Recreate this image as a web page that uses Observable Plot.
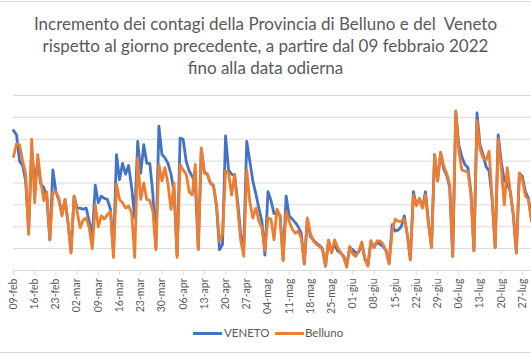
<!DOCTYPE html>
<html>
<head>
<meta charset="utf-8">
<script src="https://cdn.jsdelivr.net/npm/d3@7"></script>
<script src="https://cdn.jsdelivr.net/npm/@observablehq/plot@0.6"></script>
<style>
  html, body { margin: 0; padding: 0; background: #fff; }
  #wrap { position: relative; width: 531px; height: 354px; overflow: hidden; font-family: Lato, "Open Sans", sans-serif; }
  #title { position: absolute; top: 13px; left: 0; width: 531px; text-align: center; color: #595959; font-size: 17px; line-height: 22px; }
  #chart { position: absolute; top: 80px; left: 0; }
  .frame { position: absolute; left: 0; width: 531px; height: 1px; background: #d9d9d9; }
  .leg { position: absolute; top: 326px; font-size: 11.5px; color: #595959; line-height: 14px; }
  .sw { position: absolute; top: 332px; height: 3px; }
</style>
</head>
<body>
<div id="wrap">
  <div class="frame" style="top:1px"></div>
  <div class="frame" style="top:352px"></div>
  <div id="title">Incremento dei contagi della Provincia di Belluno e del&nbsp; Veneto<br>rispetto al giorno precedente, a partire dal 09 febbraio 2022<br>fino alla data odierna</div>
  <div id="chart"></div>
  <div class="sw" style="left:193px;width:29px;background:#4472C4"></div>
  <div class="leg" style="left:224px">VENETO</div>
  <div class="sw" style="left:275px;width:29px;background:#ED7D31"></div>
  <div class="leg" style="left:305px">Belluno</div>
</div>
<script>
const startDate = "2022-02-09";
const seriesNames = ["VENETO", "Belluno"];
const veneto = [
  6.4, 6.2, 5.0, 4.8, 4.1, 1.8, 5.5, 4.0, 5.0, 3.95,
  3.8, 3.3, 1.4, 4.6, 3.6, 3.2, 2.55, 3.25, 2.2, 0.88,
  3.4, 2.85, 2.85, 2.8, 2.85, 2.25, 1.5, 3.9, 3.1, 3.4,
  3.3, 3.25, 2.8, 0.9, 5.3, 4.15, 4.9, 4.4, 4.8, 3.8,
  2.4, 5.9, 4.45, 5.75, 4.9, 4.9, 3.5, 1.05, 6.6, 5.3,
  5.15, 4.9, 4.4, 3.6, 0.7, 6.05, 6.0, 5.0, 4.55, 4.3,
  4.0, 1.0, 5.55, 4.5, 4.4, 4.0, 3.9, 3.0, 0.95, 1.2,
  6.15, 4.6, 4.4, 4.35, 3.15, 1.65, 1.05, 5.9, 5.0, 4.1,
  3.5, 2.85, 2.25, 0.7, 3.6, 3.2, 2.6, 2.65, 2.5, 0.5,
  3.4, 2.5, 2.35, 2.2, 2.0, 1.7, 0.3, 2.35, 1.55, 1.4,
  1.25, 1.15, 1.0, 0.2, 1.35, 0.85, 1.2, 0.9, 0.8, 0.65,
  0.25, 1.05, 0.95, 0.8, 0.85, 1.2, 0.55, 0.25, 1.35, 1.05,
  1.3, 1.2, 1.1, 0.9, 0.35, 2.1, 1.8, 1.85, 2.0, 2.5,
  1.65, 0.5, 3.6, 3.0, 3.25, 2.9, 3.6, 2.2, 1.05, 5.3,
  4.1, 5.4, 4.65, 4.35, 3.8, 0.65, 7.25, 5.75, 5.2, 4.85,
  4.7, 3.6, 0.9, 7.2, 5.75, 5.3, 4.75, 4.55, 3.3, 1.05,
  6.2, 5.0, 4.1, 4.0, 3.6, 2.55, 0.8, 4.45, 4.3, 3.6,
  3.3, 2.3
];
const belluno = [
  5.2, 5.8, 5.75, 5.0, 4.45, 1.65, 6.0, 3.1, 5.3, 4.1,
  3.2, 3.6, 1.4, 3.6, 3.6, 3.3, 2.5, 3.25, 2.2, 0.8,
  3.4, 2.7, 1.95, 2.3, 2.4, 1.95, 1.0, 3.0, 2.0, 2.5,
  2.35, 2.55, 2.7, 0.6, 3.95, 3.25, 3.1, 2.85, 2.95, 2.65,
  0.6, 5.15, 3.25, 4.0, 3.25, 3.2, 2.7, 0.95, 4.85, 4.1,
  4.7, 3.95, 2.8, 4.0, 0.6, 4.85, 4.6, 4.4, 3.6, 3.45,
  4.85, 0.95, 5.6, 4.45, 4.4, 4.0, 3.85, 2.95, 1.35, 1.65,
  4.55, 4.45, 3.45, 4.4, 2.85, 1.4, 0.65, 4.6, 3.15, 2.4,
  2.85, 2.25, 1.95, 0.9, 2.4, 2.35, 1.4, 2.8, 2.5, 0.45,
  2.7, 2.25, 1.9, 1.7, 1.8, 1.5, 0.3, 2.4, 1.7, 1.35,
  1.2, 1.1, 0.95, 0.2, 1.4, 0.8, 1.4, 1.05, 0.8, 0.6,
  0.15, 1.1, 0.75, 0.65, 0.9, 1.3, 0.5, 0.2, 1.35, 1.05,
  1.35, 1.35, 1.2, 0.9, 0.3, 1.8, 2.35, 2.25, 2.25, 2.35,
  1.65, 0.5, 3.45, 2.95, 3.3, 2.85, 3.45, 2.1, 1.05, 5.3,
  4.1, 5.4, 4.8, 4.45, 3.9, 0.65, 7.3, 5.45, 4.6, 4.55,
  4.5, 3.5, 0.9, 6.85, 5.55, 5.15, 5.05, 5.45, 3.3, 1.05,
  6.0, 4.7, 3.0, 4.7, 3.6, 2.55, 0.8, 4.45, 4.15, 3.4,
  3.25, 2.25
];
const tickLabels = ["09-feb","16-feb","23-feb","02-mar","09-mar","16-mar","23-mar","30-mar",
  "06-apr","13-apr","20-apr","27-apr","04-mag","11-mag","18-mag","25-mag",
  "01-giu","08-giu","15-giu","22-giu","29-giu","06-lug","13-lug","20-lug","27-lug"];
const yTicks = [0, 1, 2, 3, 4, 5, 6, 7, 8];

const start = new Date(startDate + "T00:00:00Z");
const dayDate = (i) => d3.utcDay.offset(start, i);
const rows = [];
veneto.forEach((v, i) => rows.push({date: dayDate(i), value: v, series: seriesNames[0]}));
belluno.forEach((v, i) => rows.push({date: dayDate(i), value: v, series: seriesNames[1]}));
const tickDates = tickLabels.map((_, i) => dayDate(i * 7));

const chart = Plot.plot({
  width: 531,
  height: 245,
  marginLeft: 13,
  marginRight: 0,
  marginTop: 15,
  marginBottom: 55,
  style: {fontFamily: "Lato, 'Open Sans', sans-serif", fontSize: "10.5px", background: "transparent"},
  x: {type: "utc", domain: [dayDate(0), dayDate(veneto.length - 1)]},
  y: {domain: [0, 8], axis: null},
  marks: [
    Plot.gridY(yTicks, {stroke: "#d9d9d9", strokeOpacity: 1}),
    Plot.ruleY([0], {stroke: "#d9d9d9"}),
    Plot.axisX(tickDates, {
      tickFormat: (d) => tickLabels[tickDates.findIndex(t => +t === +d)],
      tickRotate: -90, tickSize: 5, tickPadding: 3,
      color: "#595959", stroke: "#d9d9d9", label: null
    }),
    Plot.lineY(rows.filter(r => r.series === seriesNames[0]), {x: "date", y: "value", stroke: "#4472C4", strokeWidth: 2.8, strokeLinejoin: "round"}),
    Plot.lineY(rows.filter(r => r.series === seriesNames[1]), {x: "date", y: "value", stroke: "#ED7D31", strokeWidth: 2.8, strokeLinejoin: "round"})
  ]
});
document.getElementById("chart").appendChild(chart);
</script>
</body>
</html>
